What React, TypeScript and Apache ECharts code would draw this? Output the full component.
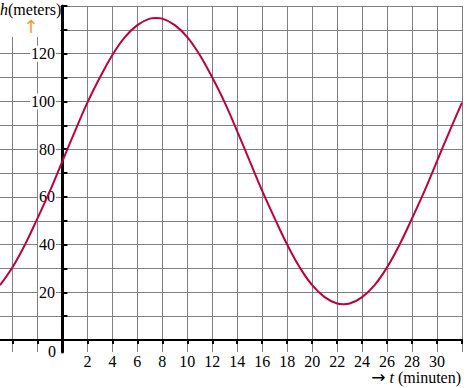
import React, { useEffect, useRef } from "react";
import * as echarts from "echarts";

const timeMinutes = [-5, -4, -3, -2, -1, 0, 1, 2, 3, 4, 5, 6, 7, 7.5, 8, 9, 10, 11, 12, 13, 14, 15, 16, 17, 18, 19, 20, 21, 22, 22.5, 23, 24, 25, 26, 27, 28, 29, 30, 31, 32];
const heightMeters = [23, 30.5, 40, 51, 62.5, 75, 87.5, 99.5, 110, 119.5, 127, 132, 134.7, 135, 134.7, 132, 127, 119.5, 110, 99.5, 87.5, 75, 62.5, 51, 40, 30.5, 23, 18, 15.3, 15, 15.3, 18, 23, 30.5, 40, 51, 62.5, 75, 87.5, 99.5];
const xTickValues = [-4, -2, 0, 2, 4, 6, 8, 10, 12, 14, 16, 18, 20, 22, 24, 26, 28, 30, 32];
const xLabelValues = [2, 4, 6, 8, 10, 12, 14, 16, 18, 20, 22, 24, 26, 28, 30];
const yTickValues = [0, 10, 20, 30, 40, 50, 60, 70, 80, 90, 100, 110, 120, 130, 140];
const yLabelValues = [20, 40, 60, 80, 100, 120];

const FONT = "Liberation Serif";

export default function App() {
  const ref = useRef<HTMLDivElement>(null);
  useEffect(() => {
    if (!ref.current) return;
    const chart = echarts.init(ref.current, null, { renderer: "svg" });
    const data = timeMinutes.map((t, i) => [t, heightMeters[i]]);
    chart.setOption({
      animation: false,
      backgroundColor: "#fff",
      textStyle: { fontFamily: FONT },
      grid: { left: 0, right: 13, top: 6, bottom: 36, containLabel: false, outerBoundsMode: "none" },
      xAxis: {
        type: "value",
        min: -5,
        max: 32,
        axisLine: { onZero: true, lineStyle: { color: "#000", width: 2 } },
        axisTick: { show: true, customValues: xTickValues, length: 4, lineStyle: { color: "#000", width: 2 } },
        axisLabel: {
          customValues: xLabelValues,
          margin: 1,
          color: "#000",
          fontFamily: FONT,
          fontSize: 16,
        },
        splitLine: { show: true, lineStyle: { color: "#808080", width: 1 } },
      },
      yAxis: {
        type: "value",
        min: -5,
        max: 140,
        axisLine: { onZero: true, lineStyle: { color: "#000", width: 3 } },
        axisTick: { show: true, inside: true, customValues: yTickValues, length: 5, lineStyle: { color: "#000", width: 2 } },
        axisLabel: {
          customValues: yLabelValues,
          margin: -56,
          color: "#000",
          fontFamily: FONT,
          fontSize: 16,
          align: "right",
          backgroundColor: "#fff",
          padding: [0, 1, 0, 1],
        },
        splitLine: { show: true, lineStyle: { color: "#808080", width: 1 } },
      },
      series: [
        {
          type: "line",
          data,
          smooth: 0.4,
          showSymbol: false,
          symbol: "none",
          lineStyle: { color: "#c0003c", width: 2 },
          z: 3,
        },
      ],
      graphic: [
        { type: "rect", left: 0, top: 0, z: 5, shape: { width: 60, height: 37 }, style: { fill: "#fff" } },
        {
          type: "text",
          x: 0,
          y: 1,
          z: 10,
          style: {
            text: "{i|h}(meters)",
            fontFamily: FONT,
            fontSize: 16,
            fill: "#000",
            rich: { i: { fontStyle: "italic", fontFamily: FONT, fontSize: 16, fill: "#000" } },
          },
        },
        {
          type: "text",
          x: 31,
          y: 17,
          z: 10,
          style: { text: "↑", fontFamily: "DejaVu Sans", fontSize: 18, fill: "#f39a2e", align: "center" },
        },
        {
          type: "text",
          x: 52,
          y: 351,
          z: 10,
          style: { text: "0", fontFamily: FONT, fontSize: 16, fill: "#000", align: "center", verticalAlign: "middle" },
        },
        {
          type: "text",
          x: 461,
          y: 377,
          z: 10,
          style: {
            text: "{a|→} {i|t} (minuten)",
            fontFamily: FONT,
            fontSize: 16,
            fill: "#000",
            align: "right",
            verticalAlign: "middle",
            rich: {
              a: { fontFamily: "DejaVu Sans", fontSize: 17, fill: "#000" },
              i: { fontStyle: "italic", fontFamily: FONT, fontSize: 16, fill: "#000" },
            },
          },
        },
      ],
    });
    return () => chart.dispose();
  }, []);
  return (
    <div
      ref={ref}
      style={{ position: "absolute", left: 0, top: 0, width: 475, height: 388 }}
    />
  );
}
